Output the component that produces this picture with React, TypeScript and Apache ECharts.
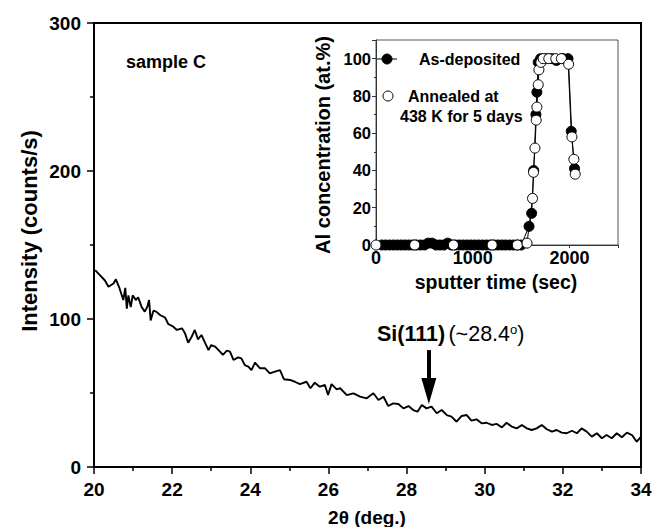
import React, { useEffect, useRef } from 'react';
import * as echarts from 'echarts';

// Main XRD scan: 2θ (deg.) vs intensity (counts/s)
const twoTheta = [
  20.03, 20.15, 20.28, 20.37, 20.5, 20.56, 20.65, 20.75, 20.8, 20.84, 20.88, 20.94, 20.99,
  21.07, 21.13, 21.22, 21.3, 21.36, 21.41, 21.45, 21.52, 21.59, 21.69, 21.82, 21.9,
  22.03, 22.12, 22.25, 22.33, 22.41, 22.5, 22.58, 22.66, 22.75, 22.84, 22.93,
  23.0, 23.1, 23.2, 23.3, 23.4, 23.48, 23.57, 23.69, 23.77, 23.86, 23.95,
  24.03, 24.12, 24.25, 24.38, 24.5, 24.63, 24.76, 24.86,
  25.02, 25.14, 25.27, 25.44, 25.54, 25.65, 25.78, 25.91, 25.99,
  26.08, 26.21, 26.3, 26.47, 26.64, 26.81, 26.98,
  27.15, 27.28, 27.41, 27.53, 27.66, 27.79, 27.92,
  28.05, 28.17, 28.28, 28.39, 28.51, 28.64, 28.77, 28.9,
  29.03, 29.15, 29.28, 29.41, 29.54, 29.66, 29.79, 29.92,
  30.05, 30.18, 30.31, 30.44, 30.56, 30.69, 30.82, 30.95,
  31.08, 31.2, 31.33, 31.46, 31.59, 31.72, 31.84, 31.97,
  32.1, 32.23, 32.36, 32.48, 32.61, 32.74, 32.87,
  33.0, 33.12, 33.25, 33.38, 33.51, 33.64, 33.77, 33.89, 33.99,
];
const intensity = [
  133, 129.7, 126, 121.8, 124, 126.8, 121, 112.8, 121, 107, 116, 108, 116,
  112.8, 114.7, 108, 105, 108, 112.8, 99, 105.6, 105, 102.7, 100.9, 96.6,
  94.8, 92.6, 93.7, 90.3, 84, 88, 92.6, 86.3, 89.2, 84, 79,
  82.4, 81.3, 78.6, 75.7, 78.6, 77.9, 72.3, 74.1, 73.4, 68.9, 67.8,
  65.5, 70.5, 66.7, 66.7, 63.3, 64.4, 65.5, 59.3,
  58.8, 57.6, 56, 57.6, 53.2, 57, 54.3, 55.4, 48.6,
  56, 52.5, 53.2, 48.6, 49.8, 47.5, 46.4,
  49.8, 45.3, 47.5, 41.2, 43, 42.6, 39.6,
  41.2, 38.5, 37.4, 41.9, 39.6, 40.8, 36.3, 38.5,
  35.1, 34, 30.6, 34.5, 35.1, 31.3, 32.2, 29.5,
  29.9, 28.4, 29.1, 26.8, 29.9, 27.3, 26.1, 28.4,
  26.1, 25, 26.1, 28.4, 25.5, 23.9, 25, 23.2,
  22.8, 24.5, 22.8, 26.1, 23.9, 20.5, 22.8,
  19.4, 21.6, 19.4, 22.8, 20.1, 23.2, 21.6, 17.1, 20.1,
];

// Inset: Al depth profile, as-deposited (filled)
const depTime = [
  60, 100, 140, 180, 220, 260, 300, 340, 380, 420, 460, 500, 540, 580, 620, 660, 700, 740,
  780, 820, 860, 900, 940, 980, 1020, 1060, 1100, 1140, 1180, 1220, 1260, 1300, 1340, 1380,
  1420, 1460, 1500, 1581, 1608, 1629, 1652, 1662, 1676, 1700, 1760, 1820, 1864, 1930, 1983,
  2017, 2051,
];
const depAl = [
  0, 0, 0, 0, 0, 0, 0, 0, 0, 0, 0, 0, 1, 1, 0, 0, 0, 1,
  0, 0, 0, 0, 0, 0, 0, 0, 0, 0, 0, 0, 0, 0, 0, 0,
  0, 0, 0, 10, 17, 40, 70, 82, 98, 100, 100, 100, 99, 100, 100,
  61, 41,
];
// Inset: annealed at 438 K for 5 days (open)
const annTime = [
  0, 400, 800, 1200, 1460, 1560, 1617, 1627, 1642, 1655, 1662, 1676, 1683, 1703, 1727,
  1785, 1857, 1915, 1990, 2024, 2044, 2058,
];
const annAl = [
  0, 0, 0, 0, 0, 1, 25, 39, 52, 67, 74, 86, 94, 98, 100,
  100, 100, 100, 97, 58, 46, 38,
];

// Si(111) arrow (data coordinates)
const arrowX = 28.57;
const arrowTop = 79;
const arrowHeadMid = 51.4;

const zip = (a: number[], b: number[]) => a.map((v, i) => [v, b[i]]);

export default function App() {
  const ref = useRef<HTMLDivElement>(null);
  useEffect(() => {
    const chart = echarts.init(ref.current!, null, { renderer: 'svg' });
    const font = '"Liberation Sans", Arial, Helvetica, sans-serif';
    const bold = { color: '#000', fontWeight: 'bold' as const, fontFamily: font };
    chart.setOption({
      animation: false,
      backgroundColor: '#fff',
      grid: [
        { left: 94, top: 23, width: 547, height: 444, show: true, borderColor: '#000', borderWidth: 2, backgroundColor: 'transparent' },
        { left: 376, top: 40, width: 242, height: 205, show: true, borderColor: '#555', borderWidth: 1, backgroundColor: '#fff' },
      ],
      xAxis: [
        {
          gridIndex: 0, type: 'value', min: 20, max: 34, interval: 2,
          axisLine: { lineStyle: { color: '#000', width: 2 } },
          axisTick: { length: 7, lineStyle: { color: '#000', width: 1.5 } },
          minorTick: { show: true, splitNumber: 2, length: 4, lineStyle: { color: '#000', width: 1.5 } },
          splitLine: { show: false },
          axisLabel: { ...bold, fontSize: 19, margin: 13 },
        },
        {
          gridIndex: 1, type: 'value', min: 0, max: 2500, interval: 500,
          axisLine: { lineStyle: { color: '#333', width: 1 } },
          axisTick: { length: 3, lineStyle: { color: '#333', width: 1 } },
          splitLine: { show: false },
          axisLabel: { ...bold, fontSize: 18, margin: 4, formatter: (v: number) => (v % 1000 === 0 ? String(v) : '') },
        },
      ],
      yAxis: [
        {
          gridIndex: 0, type: 'value', min: 0, max: 300, interval: 100,
          axisLine: { lineStyle: { color: '#000', width: 2 } },
          axisTick: { length: 7, lineStyle: { color: '#000', width: 1.5 } },
          minorTick: { show: true, splitNumber: 2, length: 4, lineStyle: { color: '#000', width: 1.5 } },
          splitLine: { show: false },
          axisLabel: { ...bold, fontSize: 19, margin: 13 },
        },
        {
          gridIndex: 1, type: 'value', min: 0, max: 110, interval: 20,
          axisLine: { lineStyle: { color: '#333', width: 1 } },
          axisTick: { length: 4, lineStyle: { color: '#333', width: 1 } },
          minorTick: { show: true, splitNumber: 2, length: 2, lineStyle: { color: '#333', width: 1 } },
          splitLine: { show: false },
          axisLabel: { ...bold, fontSize: 16.5, margin: 5, formatter: (v: number) => (v <= 100 ? String(v) : '') },
        },
      ],
      series: [
        {
          type: 'line', xAxisIndex: 0, yAxisIndex: 0, data: zip(twoTheta, intensity),
          showSymbol: false, symbol: 'none',
          lineStyle: { color: '#000', width: 1.9 },
          markLine: {
            silent: true,
            symbolSize: [15, 26],
            label: { show: false },
            lineStyle: { color: '#000', width: 4, type: 'solid' },
            data: [[
              { coord: [arrowX, arrowTop], symbol: 'none' },
              { coord: [arrowX, arrowHeadMid], symbol: 'triangle' },
            ]],
          },
        },
        {
          type: 'line', xAxisIndex: 1, yAxisIndex: 1, data: zip(depTime, depAl),
          symbol: 'circle', symbolSize: 10,
          itemStyle: { color: '#000', borderColor: '#000', borderWidth: 1 },
          lineStyle: { color: '#000', width: 1 },
        },
        {
          type: 'line', xAxisIndex: 1, yAxisIndex: 1, data: zip(annTime, annAl),
          symbol: 'circle', symbolSize: 10,
          itemStyle: { color: '#fff', borderColor: '#000', borderWidth: 1 },
          lineStyle: { color: '#000', width: 1 },
        },
      ],
      graphic: [
        { type: 'text', x: 29, y: 231, rotation: Math.PI / 2, style: { text: 'Intensity (counts/s)', fill: '#000', fontSize: 22, fontWeight: 'bold', fontFamily: font, align: 'center', verticalAlign: 'middle' } },
        { type: 'text', x: 367, y: 517, style: { text: '2θ (deg.)', fill: '#000', fontSize: 19, fontWeight: 'bold', fontFamily: font, align: 'center', verticalAlign: 'middle' } },
        { type: 'text', x: 126, y: 62, style: { text: 'sample C', fill: '#000', fontSize: 18, fontWeight: 'bold', fontFamily: font, align: 'left', verticalAlign: 'middle' } },
        { type: 'text', x: 323, y: 145, rotation: Math.PI / 2, style: { text: 'Al concentration (at.%)', fill: '#000', fontSize: 20, fontWeight: 'bold', fontFamily: font, align: 'center', verticalAlign: 'middle' } },
        { type: 'text', x: 496, y: 282, style: { text: 'sputter time (sec)', fill: '#000', fontSize: 19.5, fontWeight: 'bold', fontFamily: font, align: 'center', verticalAlign: 'middle' } },
        { type: 'line', shape: { x1: 377, y1: 59, x2: 397, y2: 59 }, style: { stroke: '#000', lineWidth: 1 } },
        { type: 'circle', shape: { cx: 387, cy: 59, r: 5 }, style: { fill: '#000', stroke: '#000' } },
        { type: 'text', x: 419, y: 59, style: { text: 'As-deposited', fill: '#000', fontSize: 16, fontWeight: 'bold', fontFamily: font, align: 'left', verticalAlign: 'middle' } },
        { type: 'circle', shape: { cx: 388, cy: 96, r: 5 }, style: { fill: '#fff', stroke: '#000', lineWidth: 1 } },
        { type: 'text', x: 408, y: 96, style: { text: 'Annealed at', fill: '#000', fontSize: 16, fontWeight: 'bold', fontFamily: font, align: 'left', verticalAlign: 'middle' } },
        { type: 'text', x: 400, y: 116, style: { text: '438 K for 5 days', fill: '#000', fontSize: 16, fontWeight: 'bold', fontFamily: font, align: 'left', verticalAlign: 'middle' } },
        {
          type: 'text', x: 377, y: 334,
          style: {
            text: '{b|Si(111)} {n|(~28.4}{s|o}{n|)}',
            fill: '#000', fontFamily: font, align: 'left', verticalAlign: 'middle',
            rich: {
              b: { fontSize: 21.5, fontWeight: 'bold', fontFamily: font, fill: '#000' },
              n: { fontSize: 21.5, fontFamily: font, fill: '#000' },
              s: { fontSize: 13, fontFamily: font, fill: '#000', verticalAlign: 'top', padding: [0, 0, 9, 0] },
            },
          },
        },
      ],
    });
    return () => chart.dispose();
  }, []);
  return <div ref={ref} style={{ position: 'fixed', left: 0, top: 0, width: 663, height: 527 }} />;
}
